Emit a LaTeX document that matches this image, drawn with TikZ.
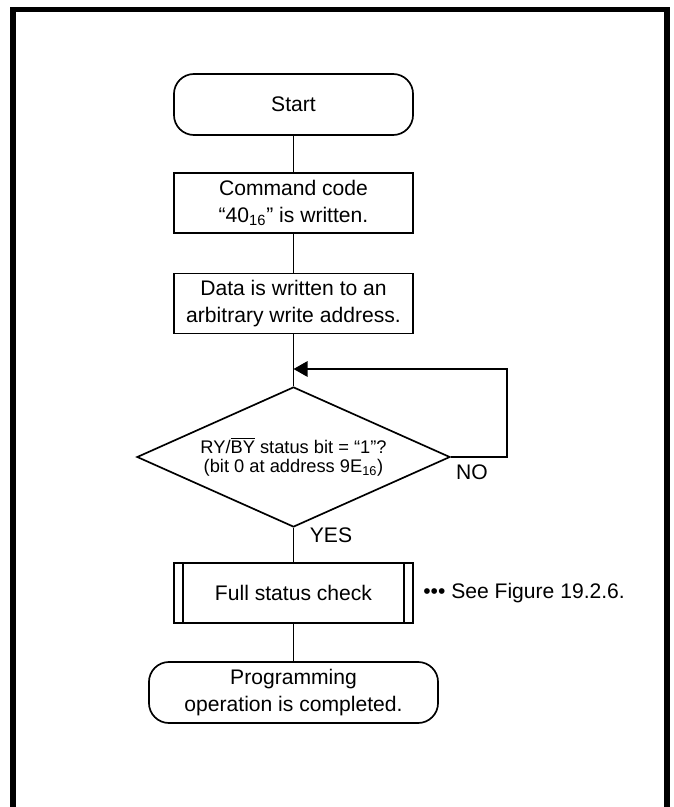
\documentclass[tikz,border=0pt]{standalone}
\usepackage{fontspec}
\setmainfont{Liberation Sans}
\usetikzlibrary{shapes.geometric, arrows.meta, positioning}
\tikzset{
  term/.style={rectangle, draw, rounded corners=0.5cm, align=center,
    minimum height=1.525cm, line width=1.2pt, inner sep=2pt},
  block/.style={rectangle, draw, align=center, minimum width=5.975cm,
    minimum height=1.5cm, line width=1.2pt},
  decision/.style={diamond, draw, align=center, inner sep=0pt, shape aspect=2.236,
    minimum width=7.825cm, minimum height=3.5cm, line width=1.2pt,
    font=\fontsize{13}{13.5}\selectfont},
  subproc/.style={rectangle, draw, align=center, minimum width=5.975cm,
    minimum height=1.5cm, line width=1.2pt},
  line/.style={line width=1.2pt},
  arrow/.style={-{Triangle[length=10pt,width=11pt]}, line width=1.2pt},
  frame/.style={line width=3.6pt}
}

\begin{document}
\begin{tikzpicture}[x=0.025cm, y=-0.025cm,
  every node/.append style={font=\fontsize{15}{18.8}\selectfont}]
  \useasboundingbox (0,0) rectangle (674,807);
  \draw[frame] (13,807) -- (13,9.5) -- (667,9.5) -- (667,807);

  \node[term, minimum width=5.975cm] (start) at (293.5,104.5) {Start};
  \node[block] (cmd) at (293.5,203)
    {Command code\\“40\textsubscript{16}” is written.};
  \node[block] (data) at (293.5,303.5)
    {Data is written to an\\arbitrary write address.};
  \node[decision] (poll) at (293.5,457)
    {RY/$\overline{\mbox{BY}}$ status bit = “1”?\\(bit 0 at address 9E\textsubscript{16})};
  \node[subproc] (fsc) at (293.5,593) {Full status check};
  \node[term, minimum width=7.225cm] (done) at (293.5,692.5)
    {Programming\\operation is completed.};
  \node[right, inner sep=0pt] (see) at (423,593) {••• See Figure 19.2.6.};
  \node (no) at (472,472) {NO};
  \node (yes) at (331,535) {YES};

  \coordinate (loopin) at (293.5,369);
  \coordinate (loopr) at (507,369);

  \draw[line] (start) -- (cmd);
  \draw[line] (cmd) -- (data);
  \draw[line] (data) -- (poll);
  \draw[line] (poll) -- (fsc);
  \draw[line] (fsc) -- (done);
  \draw[arrow] (poll.east) -| (loopr) -- (loopin);

  % side bars of the predefined process
  \draw[line] ([xshift=0.25cm]fsc.north west) -- ([xshift=0.25cm]fsc.south west);
  \draw[line] ([xshift=-0.25cm]fsc.north east) -- ([xshift=-0.25cm]fsc.south east);
\end{tikzpicture}
\end{document}
